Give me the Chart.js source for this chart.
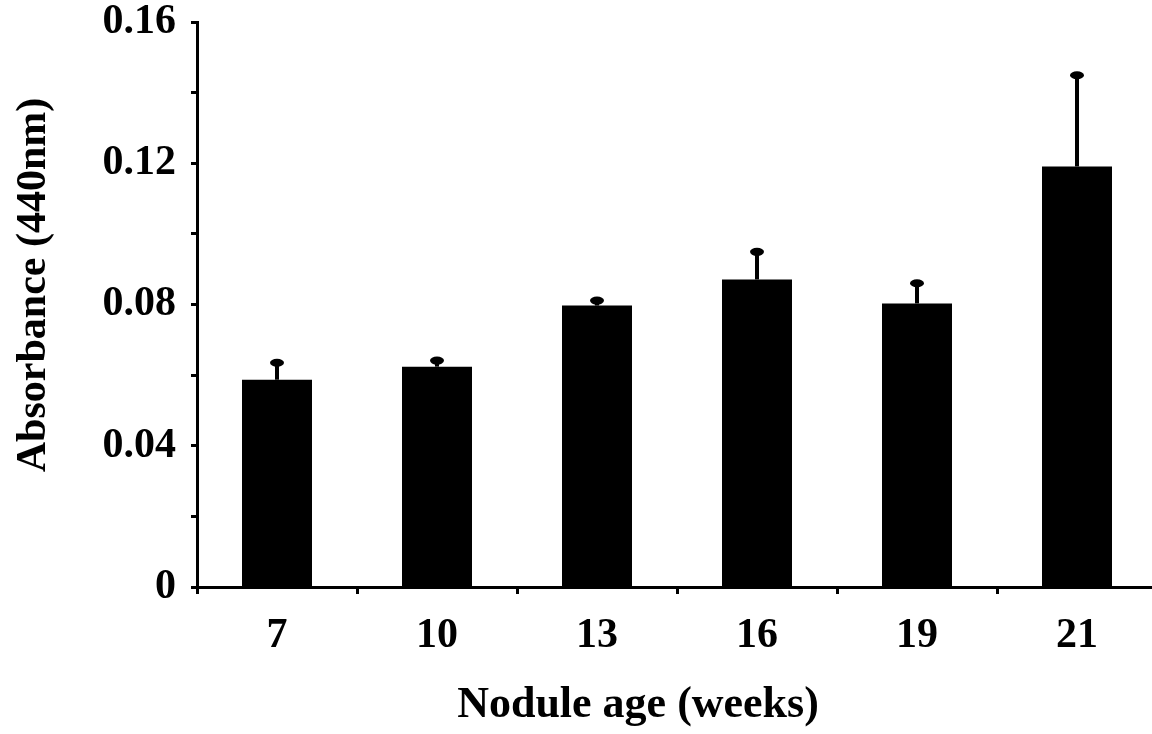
<!DOCTYPE html>
<html>
<head>
<meta charset="utf-8">
<script src="https://cdn.jsdelivr.net/npm/chart.js@4.4.1/dist/chart.umd.min.js"></script>
<style>
  html, body { margin: 0; padding: 0; background: #fff; overflow: hidden; }
  #wrap { width: 1152px; height: 734px; overflow: hidden; }
  canvas { display: block; }
</style>
</head>
<body>
<div id="wrap"><canvas id="myChart" width="1165" height="734"></canvas></div>
<script>
const weeks = ['7', '10', '13', '16', '19', '21'];
const absorbance = [0.0587, 0.0624, 0.0797, 0.0871, 0.0803, 0.1191];
const errors = [0.0051, 0.0020, 0.0017, 0.0081, 0.0060, 0.0261];
const yLabels = ['0', '0.04', '0.08', '0.12', '0.16'];

const serif = "'Liberation Serif', 'Times New Roman', serif";

// upper error bars with a rounded cap
const errorBars = {
    id: 'errorBars',
    afterDatasetsDraw(chart) {
        const ctx = chart.ctx;
        const y = chart.scales.y;
        const meta = chart.getDatasetMeta(0);
        ctx.save();
        ctx.fillStyle = '#000';
        ctx.strokeStyle = '#000';
        meta.data.forEach((bar, i) => {
            const top = y.getPixelForValue(absorbance[i] + errors[i]);
            ctx.lineWidth = 4;
            ctx.beginPath();
            ctx.moveTo(bar.x, bar.y);
            ctx.lineTo(bar.x, top);
            ctx.stroke();
            ctx.beginPath();
            ctx.ellipse(bar.x, top + 1, 7, 4, 0, 0, Math.PI * 2);
            ctx.fill();
        });
        ctx.restore();
    }
};

// axis titles, placed like in the figure
const axisTitles = {
    id: 'axisTitles',
    afterDraw(chart) {
        const ctx = chart.ctx;
        ctx.save();
        ctx.fillStyle = '#000';
        ctx.textAlign = 'center';
        ctx.textBaseline = 'middle';
        ctx.font = "bold 44px " + serif;
        ctx.fillText('Nodule age (weeks)', 638, 706);
        ctx.translate(34, 285);
        ctx.rotate(-Math.PI / 2);
        ctx.font = "bold 42px " + serif;
        ctx.fillText('Absorbance (440nm)', 0, 0);
        ctx.restore();
    }
};

const ctx = document.getElementById('myChart').getContext('2d');
const myChart = new Chart(ctx, {
    type: 'bar',
    data: {
        labels: weeks,
        datasets: [{
            label: 'Absorbance',
            data: absorbance,
            backgroundColor: '#000',
            borderWidth: 0,
            categoryPercentage: 1,
            barPercentage: 0.4375
        }]
    },
    options: {
        responsive: false,
        devicePixelRatio: 1,
        animation: false,
        layout: { padding: { top: 22, right: 8, left: 0, bottom: 0 } },
        plugins: {
            legend: { display: false },
            tooltip: { enabled: false }
        },
        scales: {
            x: {
                afterFit: (s) => { s.height = 147; },
                grid: {
                    offset: true,
                    drawOnChartArea: false,
                    drawTicks: true,
                    tickLength: 7,
                    tickWidth: 3,
                    tickColor: '#000'
                },
                border: { display: true, color: '#000', width: 3 },
                ticks: {
                    color: '#000',
                    padding: 17,
                    font: { family: serif, size: 42, weight: 'bold' }
                }
            },
            y: {
                min: 0,
                max: 0.16,
                afterFit: (s) => { s.width = 197; s.paddingTop = 0; s.paddingBottom = 0; },
                grid: {
                    drawOnChartArea: false,
                    drawTicks: true,
                    tickLength: 6,
                    tickWidth: 3,
                    tickColor: '#000'
                },
                border: { display: true, color: '#000', width: 3 },
                ticks: {
                    stepSize: 0.02,
                    color: '#000',
                    padding: 15,
                    font: { family: serif, size: 42, weight: 'bold', lineHeight: 0.5 },
                    callback: (v) => {
                        const k = Math.round(v / 0.04 * 1000) / 1000;
                        return Number.isInteger(k) ? yLabels[k] : '';
                    }
                }
            }
        }
    },
    plugins: [errorBars, axisTitles]
});
</script>
</body>
</html>
